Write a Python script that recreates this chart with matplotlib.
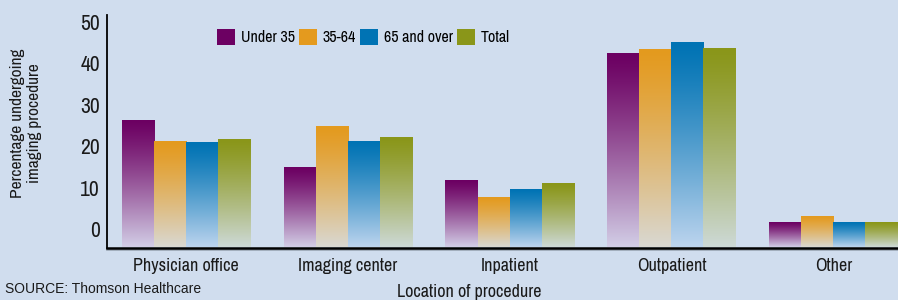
import numpy as np
import matplotlib
matplotlib.use('Agg')
import matplotlib.pyplot as plt
from matplotlib import font_manager
from matplotlib.colors import to_rgb
from matplotlib.patches import Patch

# data
locations = ['Physician office', 'Imaging center', 'Inpatient', 'Outpatient', 'Other']
groups = ['Under 35', '35-64', '65 and over', 'Total']
under35 = [26.3, 14.9, 11.8, 42.4, 1.7]
age35_64 = [21.2, 24.8, 7.7, 43.4, 3.1]
over65 = [21.0, 21.2, 9.6, 45.0, 1.7]
total = [21.7, 22.2, 11.0, 43.6, 1.7]
yticks = [0, 10, 20, 30, 40, 50]

top_colors = ['#6c0062', '#e49a1e', '#0073b4', '#8a9619']
bottom_colors = ['#d2cde6', '#d9d8d2', '#bcd4ee', '#cdd9d6']
bg = '#d0ddee'

# pick a narrow face if one is around
names = {f.name for f in font_manager.fontManager.ttflist}
narrow = [n for n in sorted(names) if 'Condensed' in n or 'Narrow' in n]
cond = [narrow[0]] if narrow else []
cond += ['Liberation Sans', 'DejaVu Sans']
plt.rcParams['font.family'] = cond
scale = 1.0 if narrow else 0.9

fig = plt.figure(figsize=(8.98, 3.0), dpi=100, facecolor=bg)
ax = fig.add_axes([0.119, 0.173, 0.881, 0.777])
ax.set_facecolor(bg)

ymin, ymax = -4.6, 51.7
series = [under35, age35_64, over65, total]
x = np.arange(len(locations))
w = 0.198
for i, vals in enumerate(series):
    bars = ax.bar(x + (i - 1.5) * w, np.array(vals) - ymin, w, bottom=ymin,
                  color='none', edgecolor='none')
    c0 = np.array(to_rgb(top_colors[i]))
    c1 = np.array(to_rgb(bottom_colors[i]))
    t = np.linspace(0, 1, 100) ** 1.2
    grad = (c0[None, :] * (1 - t[:, None]) + c1[None, :] * t[:, None])[:, None, :]
    for b in bars:
        x0, y0 = b.get_x(), b.get_y()
        ax.imshow(grad, extent=[x0, x0 + b.get_width(), y0 + 0.3, y0 + b.get_height()],
                  aspect='auto', interpolation='bilinear', zorder=2)

ax.set_xlim(-0.488, 4.40)
ax.set_ylim(ymin, ymax)
ax.set_yticks(yticks)
ax.set_yticklabels([str(v) for v in yticks], fontsize=15.5 * scale, color='#1a1a1a')
ax.set_xticks(x)
ax.set_xticklabels(locations, fontsize=13 * scale, color='#1a1a1a')
ax.tick_params(length=0)
ax.tick_params(axis='y', pad=5)
ax.tick_params(axis='x', pad=7)
for s in ['top', 'right']:
    ax.spines[s].set_visible(False)
ax.spines['left'].set_linewidth(1.3)
ax.spines['bottom'].set_linewidth(1.8)
ax.spines['left'].set_zorder(3)
ax.spines['bottom'].set_zorder(3)
# faint shadow under the baseline
ax.axhline(ymin - 0.45, color='#9aa6b4', lw=1.2, zorder=1, clip_on=False)

handles = [Patch(facecolor=c, edgecolor='none') for c in top_colors]
leg = ax.legend(handles, groups, ncol=4, loc='center left', bbox_to_anchor=(0.139, 0.905),
                frameon=False, fontsize=11.5 * scale, handlelength=1.15 / scale,
                handleheight=1.15, handletextpad=0.35, columnspacing=0.25,
                borderpad=0, borderaxespad=0)

fig.text(0.029, 0.59, 'Percentage undergoing\nimaging procedure', rotation=90,
         ha='center', va='center', fontsize=12.5 * scale, color='#1a1a1a', linespacing=1.2)
fig.text(0.522, 0.028, 'Location of procedure', ha='center', va='center',
         fontsize=13 * scale, color='#1a1a1a')
fig.text(0.006, 0.037, 'SOURCE: Thomson Healthcare', ha='left', va='center',
         fontsize=10, color='#1a1a1a', family=['Liberation Sans', 'DejaVu Sans'])

fig.savefig('out.png', dpi=100, facecolor=bg)
